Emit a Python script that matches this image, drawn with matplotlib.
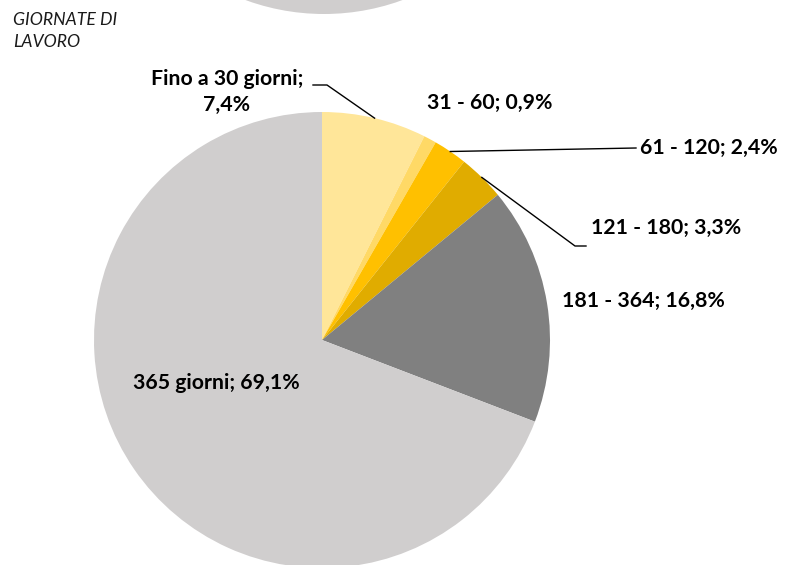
import matplotlib
matplotlib.use("Agg")
import matplotlib.pyplot as plt
import numpy as np

# ---- data ----
categories = ["Fino a 30 giorni", "31 - 60", "61 - 120", "121 - 180", "181 - 364", "365 giorni"]
values = [7.4, 0.9, 2.4, 3.3, 16.8, 69.1]
label_texts = ["Fino a 30 giorni;\n7,4%", "31 - 60; 0,9%", "61 - 120; 2,4%",
               "121 - 180; 3,3%", "181 - 364; 16,8%", "365 giorni; 69,1%"]
title_text = "GIORNATE DI\nLAVORO"

colors = ["#FFE699", "#FFD966", "#FFC000", "#E0AC00", "#808080", "#D0CECE"]

W, H = 792, 565
fig = plt.figure(figsize=(W / 100, H / 100), dpi=100)
ax = fig.add_axes([0, 0, 1, 1])
ax.set_xlim(0, W)
ax.set_ylim(0, H)
ax.set_aspect("equal")
ax.axis("off")

def py(y):  # pixel-from-top -> data y
    return H - y

cx, cy, R = 322, 340, 228

# partial pie of previous chart at top
ax.pie([1], colors=["#D0CECE"], center=(324, py(-214)), radius=R,
       startangle=90, frame=True)

wedges, _ = ax.pie(values, colors=colors, center=(cx, py(cy)), radius=R,
                   startangle=90, counterclock=False, frame=True,
                   wedgeprops=dict(linewidth=0))
ax.set_xlim(0, W)
ax.set_ylim(0, H)
ax.axis("off")

font = "Lato"
lab_kw = dict(fontsize=15.3, fontweight="bold", family=font, color="#000000")

# label positions (pixels, from top)
label_pos = [(227, 92, "center"), (427, 103, "left"), (640, 148, "left"),
             (591, 228, "left"), (562, 301, "left"), (133, 383, "left")]
for txt, (x, y, ha) in zip(label_texts, label_pos):
    ax.text(x, py(y), txt, ha=ha, va="center", linespacing=1.4, **lab_kw)

# leader lines from wedge mid-edges
cum = np.cumsum([0] + values)
total = sum(values)
def edge_point(i):
    mid = (cum[i] + cum[i + 1]) / 2 / total * 360
    a = np.deg2rad(mid)
    return cx + R * np.sin(a), cy - R * np.cos(a)

lk = dict(color="black", lw=1.0)
ex, ey = edge_point(0)
ax.plot([313, 327, ex], [py(85), py(85), py(ey)], **lk)
ex, ey = edge_point(2)
ax.plot([ex, 636], [py(ey), py(148)], **lk)
ex, ey = edge_point(3)
ax.plot([ex, 575, 586], [py(ey), py(246), py(246)], **lk)

ax.text(13, py(31), title_text, ha="left", va="center", fontsize=12.7,
        style="italic", family=font, color="#1a1a1a", linespacing=1.45)

fig.savefig("out.png", dpi=100)
